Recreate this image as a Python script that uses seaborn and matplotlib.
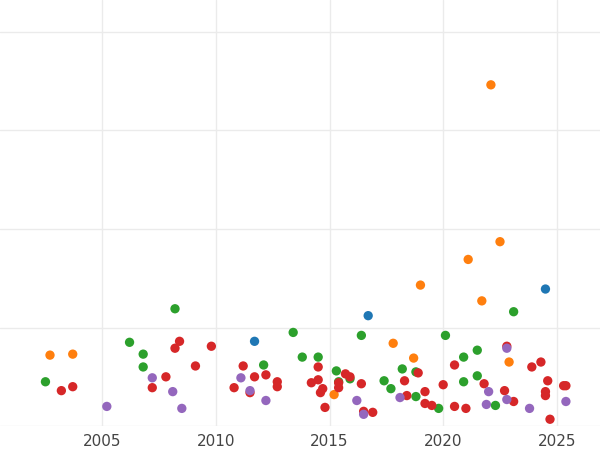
import matplotlib
matplotlib.use("Agg")
import matplotlib.pyplot as plt
import seaborn as sns
import pandas as pd

green_x = [2002.5,2006.2,2006.8,2006.8,2008.2,2012.1,2013.4,2013.8,2014.5,2015.3,2015.4,2015.9,2016.4,2017.4,2017.7,2018.2,2018.8,2018.8,2019.8,2020.1,2020.9,2020.9,2021.5,2021.5,2022.3,2023.1]
green_y = [45,85,73,60,119,62,95,70,70,56,45,48,92,46,38,58,55,30,18,92,70,45,77,51,21,116]
orange_x = [2002.7,2003.7,2015.2,2017.8,2018.7,2019.0,2021.1,2021.7,2022.1,2022.5,2022.9]
orange_y = [72,73,32,84,69,143,169,127,346,187,65]
blue_x = [2011.7,2016.7,2024.5]
blue_y = [86,112,139]
red_x = [2003.2,2003.7,2007.2,2007.8,2008.2,2008.4,2009.1,2009.8,2010.8,2011.2,2011.5,2011.7,2012.2,2012.7,2012.7,2014.2,2014.5,2014.5,2014.6,2014.7,2014.8,2015.4,2015.4,2015.7,2015.9,2016.4,2016.5,2016.9,2018.3,2018.4,2018.9,2019.2,2019.2,2019.5,2020.0,2020.5,2020.5,2021.0,2021.8,2022.7,2022.8,2023.1,2023.9,2024.3,2024.5,2024.5,2024.6,2024.7,2025.3,2025.4]
red_y = [36,40,39,50,79,86,61,81,39,61,34,50,52,45,40,44,60,47,34,38,19,39,44,53,50,43,15,14,46,31,54,35,23,21,42,20,62,18,43,36,81,25,60,65,35,31,46,7,41,41]
purple_x = [2005.2,2007.2,2008.1,2008.5,2011.1,2011.5,2012.2,2016.2,2016.5,2018.1,2021.9,2022.0,2022.8,2022.8,2023.8,2025.4]
purple_y = [20,49,35,18,49,36,26,26,12,29,22,35,27,79,18,25]

groups = [("A", green_x, green_y), ("B", orange_x, orange_y), ("C", blue_x, blue_y),
          ("D", red_x, red_y), ("E", purple_x, purple_y)]
rows = []
for g, xs, ys in groups:
    rows += [(g, x, y) for x, y in zip(xs, ys)]
df = pd.DataFrame(rows, columns=["group", "year", "value"])
palette = {"A": "#2ca02c", "B": "#ff7f0e", "C": "#1f77b4", "D": "#d62728", "E": "#9467bd"}

sns.set_theme(style="whitegrid")
fig = plt.figure(figsize=(6, 4.5), dpi=100)
ax = fig.add_axes([0, 0.053, 1, 0.947])
sns.scatterplot(data=df, x="year", y="value", hue="group", palette=palette,
                s=45, edgecolor="none", legend=False, ax=ax)
ax.set_xlim(2000.5, 2026.9)
ax.set_ylim(0, 432)
ax.set_xticks([2005, 2010, 2015, 2020, 2025])
ax.set_yticks([0, 100, 200, 300, 400])
ax.set_yticklabels([])
ax.set_xlabel("")
ax.set_ylabel("")
ax.tick_params(axis="x", labelsize=11, labelcolor="#444444", pad=0)
ax.grid(color="#ebebeb", linewidth=1.0)
for s in ax.spines.values():
    s.set_visible(False)
fig.savefig("out.png", dpi=100, facecolor="white")
